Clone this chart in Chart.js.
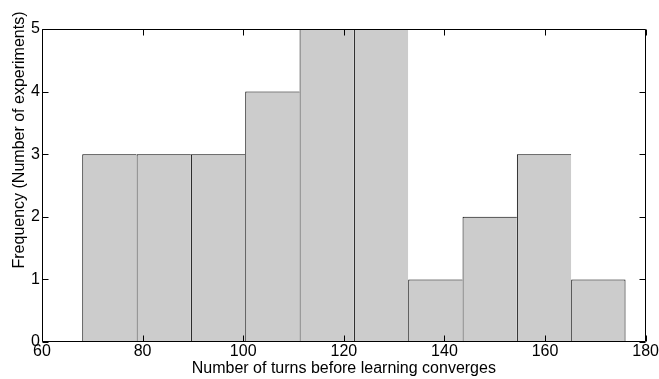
<!DOCTYPE html>
<html>
<head>
<meta charset="utf-8">
<script src="https://cdn.jsdelivr.net/npm/chart.js@4/dist/chart.umd.min.js"></script>
<style>
html,body{margin:0;padding:0;background:#fff;}
#wrap{width:659px;height:379px;}
</style>
</head>
<body>
<div id="wrap"><canvas id="c" width="659" height="379"></canvas></div>
<script>
// Data
const binCenters = [73.4, 84.2, 95.0, 105.8, 116.6, 127.4, 138.2, 149.0, 159.8, 170.6];
const counts     = [3, 3, 3, 4, 5, 5, 1, 2, 3, 1];
const xTicks = [60, 80, 100, 120, 140, 160, 180];
const yTicks = [0, 1, 2, 3, 4, 5];
const xTitle = 'Number of turns before learning converges';
const yTitle = 'Frequency (Number of experiments)';

const FONT = '"Liberation Sans", Arial, Helvetica, sans-serif';
const FS = 16;

const boxPlugin = {
  id: 'box',
  afterDatasetsDraw(chart) {
    const ctx = chart.ctx;
    const a = chart.chartArea;
    const xs = chart.scales.x, ys = chart.scales.y;
    const L = Math.round(a.left) + 0.5, R = Math.round(a.right) - 0.5;
    const T = Math.round(a.top) + 0.5, B = Math.round(a.bottom) - 0.5;
    ctx.save();
    ctx.strokeStyle = '#000';
    ctx.lineWidth = 1;
    ctx.beginPath();
    ctx.rect(L, T, R - L, B - T);
    ctx.stroke();
    const tl = 6;
    ctx.beginPath();
    xTicks.forEach(v => {
      const px = Math.round(xs.getPixelForValue(v)) + 0.5;
      ctx.moveTo(px, B); ctx.lineTo(px, B - tl);
      ctx.moveTo(px, T); ctx.lineTo(px, T + tl);
    });
    yTicks.forEach(v => {
      const py = Math.round(ys.getPixelForValue(v)) + 0.5;
      ctx.moveTo(L, py); ctx.lineTo(L + tl, py);
      ctx.moveTo(R, py); ctx.lineTo(R - tl, py);
    });
    ctx.stroke();
    // y axis title
    ctx.fillStyle = '#000';
    ctx.font = FS + 'px ' + FONT;
    ctx.translate(24, 140);
    ctx.rotate(-Math.PI / 2);
    ctx.textAlign = 'center';
    ctx.textBaseline = 'alphabetic';
    ctx.fillText(yTitle, 0, 0);
    ctx.restore();
  }
};

const last = counts.length - 1;
new Chart(document.getElementById('c'), {
  type: 'bar',
  data: {
    datasets: [{
      data: binCenters.map((c, i) => ({x: c, y: counts[i]})),
      backgroundColor: '#cccccc',
      borderColor: '#000000',
      borderWidth: (ctx) => ({left: 1, top: 1, right: ctx.dataIndex === last ? 1 : 0, bottom: 0}),
      borderSkipped: false,
      barPercentage: 1,
      categoryPercentage: 1,
      inflateAmount: 0
    }]
  },
  options: {
    responsive: false,
    animation: false,
    devicePixelRatio: 1,
    layout: {padding: {top: 29, right: 13, left: 0, bottom: 0}},
    plugins: {legend: {display: false}, tooltip: {enabled: false}},
    scales: {
      x: {
        type: 'linear',
        offset: false,
        min: 60, max: 180,
        afterBuildTicks: (s) => { s.ticks = xTicks.map(v => ({value: v})); },
        afterFit: (s) => { s.height = 37; },
        grid: {display: false, drawTicks: false},
        border: {display: false},
        ticks: {color: '#000', padding: 0, font: {family: FONT, size: FS}, maxRotation: 0, autoSkip: false},
        title: {display: true, text: xTitle, color: '#000', font: {family: FONT, size: FS}, padding: {top: 0, bottom: 1}}
      },
      y: {
        type: 'linear',
        min: 0, max: 5,
        afterBuildTicks: (s) => { s.ticks = yTicks.map(v => ({value: v})); },
        afterFit: (s) => { s.width = 42; },
        grid: {display: false, drawTicks: false},
        border: {display: false},
        ticks: {color: '#000', padding: 2, font: {family: FONT, size: FS}}
      }
    }
  },
  plugins: [boxPlugin]
});
</script>
</body>
</html>
